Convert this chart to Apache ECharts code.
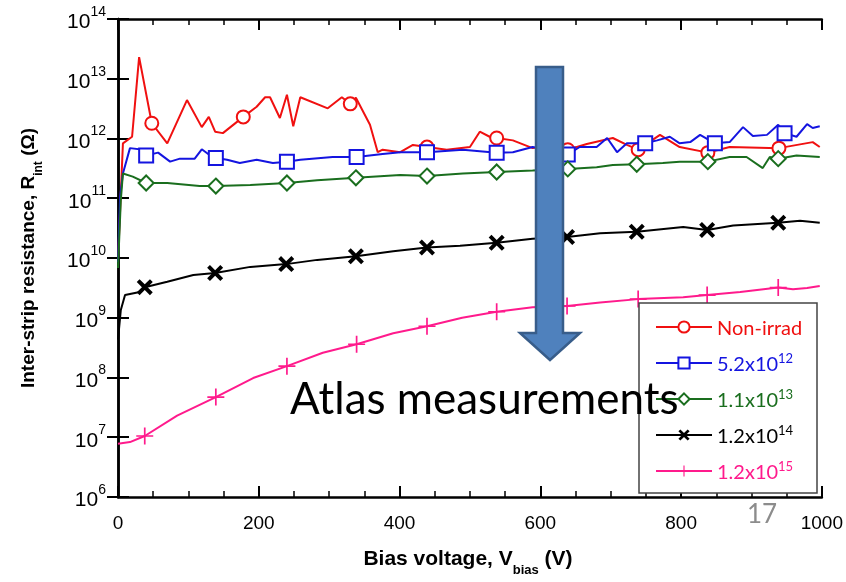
<!DOCTYPE html>
<html><head><meta charset="utf-8">
<script src="https://cdn.jsdelivr.net/npm/echarts@6/dist/echarts.min.js"></script>
<style>html,body{margin:0;padding:0;background:#fff}#c{width:846px;height:582px}</style>
</head><body><div id="c"></div>
<script>
// ---- Data (bias voltage V, resistance Ohm) ----
const seriesNames = ['Non-irrad', '5.2x10^12', '1.1x10^13', '1.2x10^14', '1.2x10^15'];

const nonIrradV = [0, 4, 7, 20, 30, 48, 70, 98, 119, 129, 138, 149, 178, 197, 209, 216, 230, 240, 249, 259, 298, 318, 330, 338, 358, 369, 376, 401, 419, 439, 467, 500, 514, 528, 538, 561, 589, 612, 639, 666, 703, 723, 739, 770, 798, 838, 869, 939, 987, 997];
const nonIrradR = [9.3e9, 1.2e11, 8.3e11, 1.07e12, 2.3e13, 1.8e12, 8.3e11, 4.4e12, 1.55e12, 2.3e12, 1.3e12, 1.23e12, 2.3e12, 3.4e12, 4.9e12, 4.9e12, 2.2e12, 5.4e12, 1.6e12, 4.9e12, 3.2e12, 4.9e12, 3.8e12, 4.8e12, 1.7e12, 5.9e11, 6.5e11, 5.9e11, 7.8e11, 7.2e11, 6.5e11, 7.2e11, 1.3e12, 1.07e12, 1.02e12, 9.3e11, 6.9e11, 7.5e11, 6.5e11, 8.1e11, 1.02e12, 7.8e11, 6.5e11, 1.15e12, 7.2e11, 5.8e11, 7.2e11, 6.9e11, 8.7e11, 7.2e11];
const nonIrradMarks = [48, 178, 330, 439, 538, 639, 739, 838, 939];

const f52V = [0, 3, 7, 17, 36, 40, 57, 74, 88, 109, 119, 131, 139, 155, 173, 197, 220, 240, 259, 305, 339, 376, 401, 439, 490, 538, 561, 589, 612, 639, 656, 680, 695, 709, 723, 749, 766, 784, 798, 813, 827, 848, 869, 888, 902, 922, 938, 947, 964, 979, 987, 997];
const f52R = [8.5e9, 1.05e11, 2.6e11, 6.9e11, 6.5e11, 5.2e11, 5.8e11, 4.1e11, 4.6e11, 4.6e11, 6.6e11, 5.2e11, 4.7e11, 4.4e11, 3.9e11, 4.4e11, 3.9e11, 4.1e11, 4.4e11, 4.9e11, 4.9e11, 5.5e11, 5.9e11, 5.9e11, 6.5e11, 5.8e11, 5.9e11, 7.2e11, 6.5e11, 5.4e11, 7.2e11, 7.2e11, 1.02e12, 5.9e11, 8.3e11, 8.3e11, 9.3e11, 1.07e12, 8.3e11, 8.7e11, 1.15e12, 8.3e11, 8.7e11, 1.55e12, 1.1e12, 1.15e12, 1.7e12, 1.23e12, 1.07e12, 1.74e12, 1.5e12, 1.6e12];
const f52Marks = [40, 139, 240, 339, 439, 538, 639, 749, 848, 947];

const f11V = [0, 4, 7, 21, 40, 70, 116, 139, 188, 240, 283, 338, 401, 439, 490, 538, 589, 639, 680, 703, 737, 774, 798, 838, 869, 893, 916, 926, 938, 964, 997];
const f11R = [6.8e9, 9.3e10, 2.6e11, 2.3e11, 1.8e11, 1.8e11, 1.6e11, 1.6e11, 1.66e11, 1.8e11, 2.0e11, 2.2e11, 2.45e11, 2.35e11, 2.6e11, 2.75e11, 2.9e11, 3.1e11, 3.3e11, 3.6e11, 3.7e11, 3.9e11, 4.1e11, 4.1e11, 4.9e11, 4.9e11, 3.2e11, 4.9e11, 4.6e11, 5.2e11, 4.9e11];
const f11Marks = [40, 139, 240, 338, 439, 538, 639, 737, 838, 938];

const f12V = [0, 4, 10, 31, 38, 70, 107, 138, 188, 239, 283, 338, 391, 439, 486, 538, 589, 638, 685, 737, 803, 837, 874, 938, 969, 997];
const f12R = [4.3e8, 1.35e9, 2.4e9, 2.7e9, 3.25e9, 4.0e9, 5.2e9, 5.6e9, 7.1e9, 7.9e9, 9.3e9, 1.07e10, 1.3e10, 1.5e10, 1.6e10, 1.8e10, 2.1e10, 2.25e10, 2.6e10, 2.75e10, 3.3e10, 2.95e10, 3.5e10, 3.9e10, 4.2e10, 3.9e10];
const f12Marks = [38, 138, 239, 338, 439, 538, 638, 737, 837, 938];

const f15V = [0, 17, 38, 84, 139, 192, 240, 291, 339, 391, 439, 489, 538, 589, 638, 685, 739, 803, 837, 884, 938, 959, 979, 997];
const f15R = [7.8e6, 8.3e6, 1.05e7, 2.3e7, 4.7e7, 9.8e7, 1.55e8, 2.6e8, 3.6e8, 5.5e8, 7.2e8, 1.0e9, 1.26e9, 1.5e9, 1.58e9, 1.8e9, 2.05e9, 2.2e9, 2.4e9, 2.7e9, 3.2e9, 3.0e9, 3.15e9, 3.4e9];
const f15Marks = [38, 139, 240, 339, 439, 538, 638, 739, 837, 938];

const xTicks = [0, 200, 400, 600, 800, 1000];
const yExponents = [6, 7, 8, 9, 10, 11, 12, 13, 14];

// ---- Build ----
function mk(vs, rs, marks) {
  return vs.map((v, i) => marks.indexOf(v) >= 0 ? [v, rs[i]] : { value: [v, rs[i]], symbol: 'none' });
}
const COLORS = ['#f01010', '#1414e0', '#1a6e1e', '#000000', '#ff1a8c'];
const keys = ['r', 'b', 'g', 'k', 'm'];
const XPATH = 'path://M0,3.5 L3.5,0 L10,6.5 L16.5,0 L20,3.5 L13.5,10 L20,16.5 L16.5,20 L10,13.5 L3.5,20 L0,16.5 L6.5,10 Z';
const PPATH = 'path://M9,0 H11 V9 H20 V11 H11 V20 H9 V11 H0 V9 H9 Z';

const defs = [
  { v: nonIrradV, r: nonIrradR, m: nonIrradMarks, sym: 'emptyCircle', size: 13, bw: 2 },
  { v: f52V, r: f52R, m: f52Marks, sym: 'emptyRect', size: 14, bw: 2 },
  { v: f11V, r: f11R, m: f11Marks, sym: 'emptyDiamond', size: 15, bw: 3.5 },
  { v: f12V, r: f12R, m: f12Marks, sym: XPATH, size: 16, bw: 0 },
  { v: f15V, r: f15R, m: f15Marks, sym: PPATH, size: 17, bw: 0 },
];

const series = defs.map((d, i) => ({
  name: seriesNames[i],
  type: 'line',
  data: mk(d.v, d.r, d.m),
  symbol: d.sym,
  symbolSize: d.size,
  showAllSymbol: true,
  smooth: false,
  z: 2 + i,
  lineStyle: { color: COLORS[i], width: 2 },
  itemStyle: { color: COLORS[i], borderWidth: d.bw },
  emphasis: { disabled: true },
  animation: false
}));

const legendRich = {};
keys.forEach((k, i) => {
  legendRich[k] = { color: COLORS[i], fontSize: 20, fontFamily: 'Lato', lineHeight: 24, verticalAlign: 'bottom' };
  legendRich[k + 's'] = { color: COLORS[i], fontSize: 13, fontFamily: 'Lato', lineHeight: 24, verticalAlign: 'top', padding: [1, 0, 0, 0] };
});

const chart = echarts.init(document.getElementById('c'), null, { renderer: 'canvas' });
const axisLine = { show: true, lineStyle: { color: '#000', width: 2.5 } };
chart.setOption({
  backgroundColor: '#fff',
  animation: false,
  grid: { left: 118, right: 24, top: 19, bottom: 85, containLabel: false },
  xAxis: [{
    type: 'value', min: 0, max: 1000, interval: 200, position: 'bottom',
    axisLine: axisLine,
    axisTick: { show: true, inside: true, length: 11, lineStyle: { color: '#000', width: 2 } },
    minorTick: { show: true, splitNumber: 4, length: 6, lineStyle: { color: '#000', width: 1.5 } },
    splitLine: { show: false },
    axisLabel: {
      margin: 17, color: '#000', fontSize: 19, fontFamily: 'Liberation Sans',
      formatter: v => xTicks.indexOf(v) >= 0 ? String(v) : ''
    }
  }, {
    type: 'value', min: 0, max: 1000, interval: 200, position: 'top',
    axisLine: axisLine,
    axisTick: { show: true, inside: true, length: 11, lineStyle: { color: '#000', width: 2 } },
    minorTick: { show: true, splitNumber: 4, length: 6, lineStyle: { color: '#000', width: 1.5 } },
    splitLine: { show: false }, axisLabel: { show: false }
  }],
  yAxis: [{
    type: 'log', logBase: 10, min: 1e6, max: 1e14, interval: 1, position: 'left',
    axisLine: axisLine,
    axisTick: { show: true, inside: true, length: 11, lineStyle: { color: '#000', width: 2 } },
    splitLine: { show: false },
    axisLabel: {
      margin: 12, color: '#000', fontFamily: 'Liberation Sans',
      formatter: v => {
        const e = Math.round(Math.log10(v));
        return yExponents.indexOf(e) >= 0 ? '{n|10}{s|' + e + '}' : '';
      },
      rich: {
        n: { fontSize: 21, fontFamily: 'Liberation Sans', color: '#000', lineHeight: 28, verticalAlign: 'bottom' },
        s: { fontSize: 14, fontFamily: 'Liberation Sans', color: '#000', lineHeight: 28, verticalAlign: 'top' }
      }
    }
  }, {
    type: 'log', logBase: 10, min: 1e6, max: 1e14, interval: 1, position: 'right',
    axisLine: axisLine,
    axisTick: { show: true, inside: true, length: 11, lineStyle: { color: '#000', width: 2 } },
    splitLine: { show: false }, axisLabel: { show: false }
  }],
  legend: {
    orient: 'vertical', left: 650, top: 314,
    itemWidth: 56, itemHeight: 14, itemGap: 12,
    selectedMode: false,
    data: seriesNames,
    formatter: name => {
      const i = seriesNames.indexOf(name);
      const k = keys[i];
      if (name.indexOf('^') < 0) return '{' + k + '|' + name + '}';
      const p = name.split('^');
      return '{' + k + '|' + p[0] + '}{' + k + 's|' + p[1] + '}';
    },
    textStyle: { rich: legendRich, padding: [0, 0, 0, 0] },
    z: 20
  },
  series: series,
  graphic: [
    { type: 'rect', z: 15, shape: { x: 639, y: 303, width: 178, height: 190 }, style: { fill: '#fff', stroke: '#444', lineWidth: 1.5 } },
    { type: 'polygon', z: 30, shape: { points: [[536, 67], [563, 67], [563, 333], [580, 333], [550, 360], [520, 333], [536, 333]] },
      style: { fill: '#4F81BD', stroke: '#385D8A', lineWidth: 2.5 } },
    { type: 'text', z: 31, x: 290, y: 400, style: { text: 'Atlas measurements', font: '44px Lato', fill: '#000', verticalAlign: 'middle', align: 'left' } },
    { type: 'text', z: 31, x: 762, y: 515, style: { text: '17', font: '26px Lato', fill: '#8c8c8c', verticalAlign: 'middle', align: 'center' } },
    { type: 'text', z: 31, x: 468, y: 563, style: {
        text: '{t|Bias voltage, V}{u|bias}{t| (V)}', align: 'center', verticalAlign: 'middle',
        rich: { t: { font: 'bold 21px "Liberation Sans"', fill: '#000', lineHeight: 28, verticalAlign: 'top' },
                u: { font: 'bold 13px "Liberation Sans"', fill: '#000', lineHeight: 28, verticalAlign: 'bottom' } } } },
    { type: 'text', z: 31, x: 32, y: 258, rotation: Math.PI / 2, style: {
        text: '{t|Inter-strip resistance, R}{u|int}{t| (Ω)}', align: 'center', verticalAlign: 'middle',
        rich: { t: { font: 'bold 19px "Liberation Sans"', fill: '#000', lineHeight: 26, verticalAlign: 'top' },
                u: { font: 'bold 12px "Liberation Sans"', fill: '#000', lineHeight: 26, verticalAlign: 'bottom' } } } }
  ]
});
</script></body></html>
